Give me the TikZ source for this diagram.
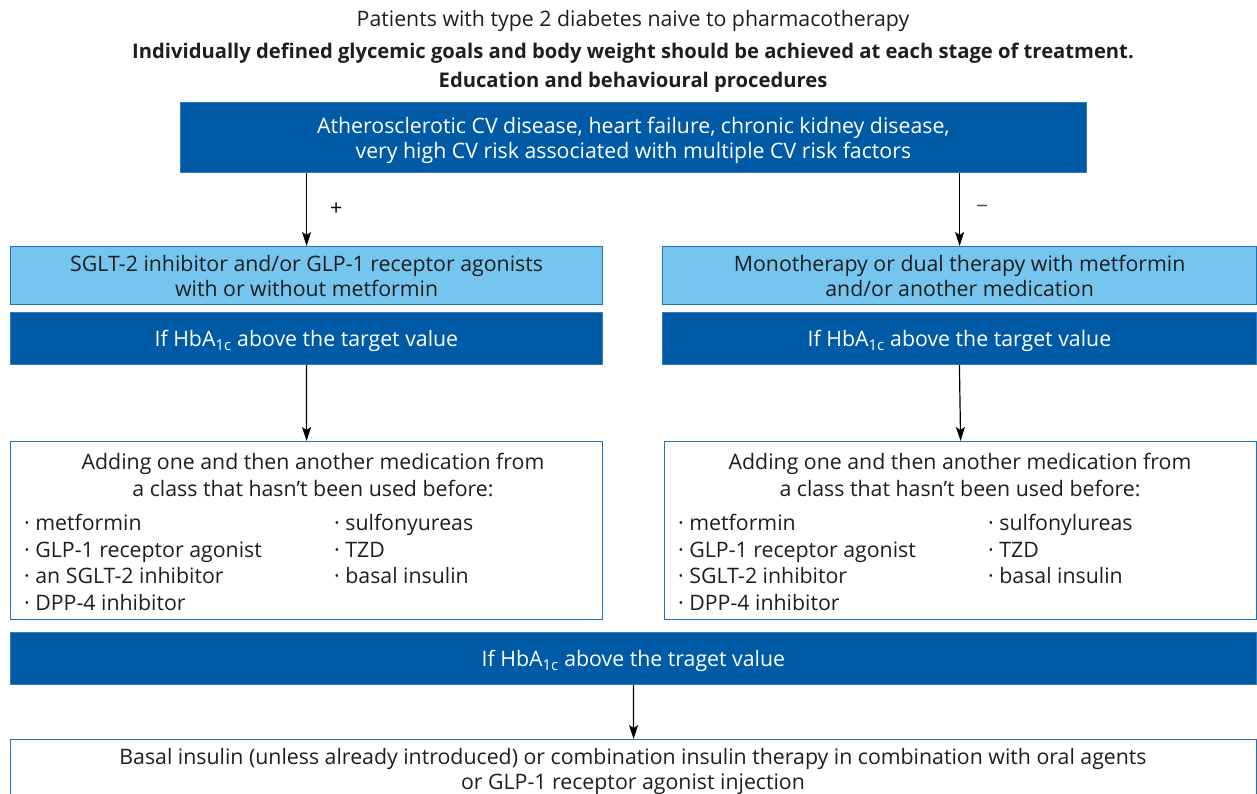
\documentclass[tikz,border=0pt]{standalone}
\usepackage{fontspec}
\setmainfont{Open Sans}
\usetikzlibrary{arrows.meta}
\definecolor{dblue}{RGB}{0,91,166}
\definecolor{lblue}{RGB}{117,197,238}
\definecolor{bord}{RGB}{33,115,184}
\definecolor{txt}{RGB}{30,30,30}
\begin{document}
\begin{tikzpicture}[x=1pt,y=-1pt,
  base/.style={font=\fontsize{21.3}{25}\selectfont, text=txt, inner sep=0pt, align=center},
  darkbox/.style={base, fill=dblue, draw=dblue!80!white, line width=0.8pt, text=white, anchor=north west, text depth=0pt},
  lightbox/.style={base, fill=lblue, draw=bord, line width=1.2pt, anchor=north west},
  whitebox/.style={base, fill=white, draw=bord, line width=1.2pt, anchor=north west},
  plain/.style={base, anchor=center},
  boldt/.style={plain, font=\fontsize{20.2}{25}\selectfont\bfseries},
  list/.style={base, align=left, anchor=north west, font=\fontsize{21.3}{26.7}\selectfont},
  sign/.style={base, text=black},
  arr/.style={-{Stealth[length=14pt,width=9pt,inset=3pt]}, line width=1.2pt, black}
]
\useasboundingbox (0,0) rectangle (1257,793);

% titles
\node[plain] (t1) at (633,21) {Patients with type 2 diabetes naive to pharmacotherapy};
\node[boldt] (t2) at (633,53) {Individually defined glycemic goals and body weight should be achieved at each stage of treatment.};
\node[boldt] (t3) at (633,82) {Education and behavioural procedures};

% top box
\node[darkbox, minimum width=906pt, minimum height=70pt] (top) at (180,102) {Atherosclerotic CV disease, heart failure, chronic kidney disease,\\very high CV risk associated with multiple CV risk factors};

% light boxes
\node[lightbox, minimum width=592pt, minimum height=58pt] (L1) at (10,246) {SGLT-2 inhibitor and/or GLP-1 receptor agonists\\with or without metformin};
\node[lightbox, minimum width=594pt, minimum height=58pt] (R1) at (662,246) {Monotherapy or dual therapy with metformin\\and/or another medication};

% dark boxes
\node[darkbox, minimum width=592pt, minimum height=52pt] (L2) at (10,312) {If HbA\textsubscript{1c} above the target value};
\node[darkbox, minimum width=594pt, minimum height=52pt] (R2) at (662,312) {If HbA\textsubscript{1c} above the target value};

% white boxes
\node[whitebox, minimum width=592pt, minimum height=178pt] (L3) at (10,441) {};
\node[whitebox, minimum width=592pt, minimum height=178pt] (R3) at (664,441) {};
\node[plain, font=\fontsize{21.3}{27}\selectfont] (L3h) at (313,475) {Adding one and then another medication from\\a class that hasn’t been used before:};
\node[plain, font=\fontsize{21.3}{27}\selectfont] (R3h) at (960,475) {Adding one and then another medication from\\a class that hasn’t been used before:};
\node[list] (L3a) at (24,514) {· metformin\\· GLP-1 receptor agonist\\· an SGLT-2 inhibitor\\· DPP-4 inhibitor};
\node[list] (L3b) at (334,514) {· sulfonyureas\\· TZD\\· basal insulin};
\node[list] (R3a) at (678,514) {· metformin\\· GLP-1 receptor agonist\\· SGLT-2 inhibitor\\· DPP-4 inhibitor};
\node[list] (R3b) at (988,514) {· sulfonylureas\\· TZD\\· basal insulin};

% bottom dark
\node[darkbox, minimum width=1246pt, minimum height=52pt] (B1) at (10,632) {If HbA\textsubscript{1c} above the traget value};

% bottom white
\node[whitebox, minimum width=1246pt, minimum height=70pt] (B2) at (10,739) {};
\node[plain] (B2t) at (633,771) {Basal insulin (unless already introduced) or combination insulin therapy in combination with oral agents\\or GLP-1 receptor agonist injection};

% arrows
\draw[arr] (top.south -| L1.north) -- node[sign, right=23pt] {+} (L1.north);
\draw[arr] (top.south -| R1.north) -- node[sign, right=16pt, text=black!70] {−} (R1.north);
\draw[arr] (L2.south) -- (L3.north);
\draw[arr] (R2.south) -- (R3.north);
\draw[arr] (B1.south) -- (B2.north);
\end{tikzpicture}
\end{document}
